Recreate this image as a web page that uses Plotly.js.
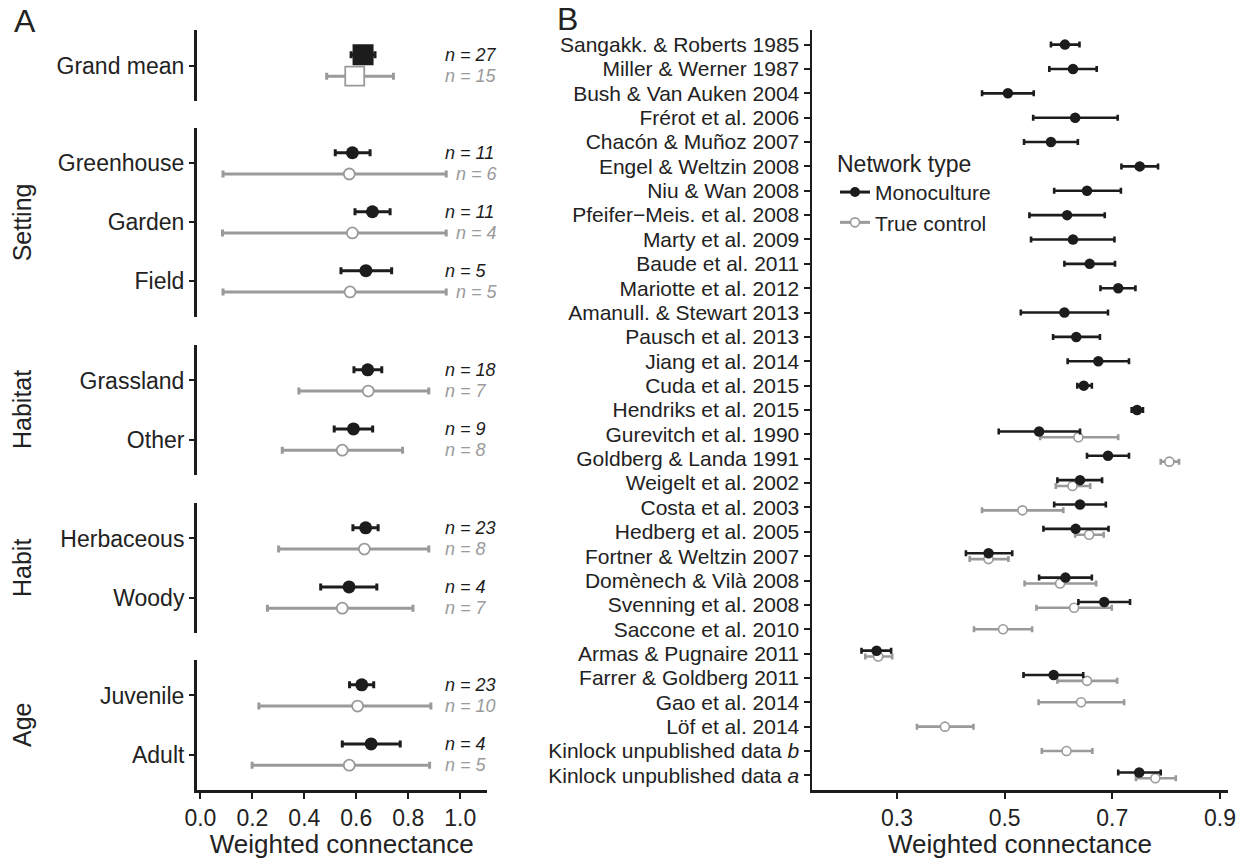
<!DOCTYPE html>
<html><head><meta charset="utf-8">
<script src="https://cdn.plot.ly/plotly-3.0.1.min.js"></script>
<style>html,body{margin:0;padding:0;background:#fff}</style>
</head><body><div id="chart" style="width:1242px;height:859px"></div>
<script>
// ---------- Panel A data ----------
const groupsA = ['Grand mean','Greenhouse','Garden','Field','Grassland','Other','Herbaceous','Woody','Juvenile','Adult'];
const facetOfA = [0,1,1,1,2,2,3,3,4,4];
const facetLabelsA = ['', 'Setting', 'Habitat', 'Habit', 'Age'];
const monoMeanA = [0.626,0.585,0.662,0.637,0.644,0.589,0.636,0.572,0.621,0.657];
const monoLoA   = [0.580,0.519,0.595,0.541,0.591,0.515,0.587,0.463,0.574,0.546];
const monoHiA   = [0.672,0.653,0.730,0.736,0.698,0.663,0.684,0.679,0.667,0.769];
const ctrlMeanA = [0.594,0.573,0.585,0.576,0.646,0.546,0.631,0.546,0.605,0.573];
const ctrlLoA   = [0.486,0.087,0.085,0.087,0.379,0.315,0.301,0.258,0.225,0.199];
const ctrlHiA   = [0.743,0.946,0.946,0.946,0.879,0.778,0.879,0.818,0.887,0.882];
const monoNA = [27,11,11,5,18,9,23,4,23,4];
const ctrlNA = [15,6,4,5,7,8,8,7,10,5];
const xTicksA = [0,0.2,0.4,0.6,0.8,1.0];

// ---------- Panel B data ----------
const studiesB = ['Sangakk. & Roberts 1985','Miller & Werner 1987','Bush & Van Auken 2004','Frérot et al. 2006',
 'Chacón & Muñoz 2007','Engel & Weltzin 2008','Niu & Wan 2008','Pfeifer\u2212Meis. et al. 2008','Marty et al. 2009',
 'Baude et al. 2011','Mariotte et al. 2012','Amanull. & Stewart 2013','Pausch et al. 2013','Jiang et al. 2014',
 'Cuda et al. 2015','Hendriks et al. 2015','Gurevitch et al. 1990','Goldberg & Landa 1991','Weigelt et al. 2002',
 'Costa et al. 2003','Hedberg et al. 2005','Fortner & Weltzin 2007','Domènech & Vilà 2008','Svenning et al. 2008',
 'Saccone et al. 2010','Armas & Pugnaire 2011','Farrer & Goldberg 2011','Gao et al. 2014','Löf et al. 2014',
 'Kinlock unpublished data <i>b</i>','Kinlock unpublished data <i>a</i>'];
const monoMeanB = [0.612,0.627,0.506,0.631,0.586,0.751,0.653,0.616,0.627,0.658,0.711,0.611,0.633,0.674,0.647,0.746,
 0.564,0.692,0.640,0.640,0.632,0.470,0.613,0.685,null,0.262,0.591,null,null,null,0.750];
const monoLoB = [0.586,0.583,0.458,0.553,0.536,0.717,0.592,0.546,0.549,0.611,0.678,0.530,0.590,0.617,0.635,0.736,
 0.489,0.653,0.598,0.592,0.572,0.428,0.564,0.637,null,0.234,0.535,null,null,null,0.711];
const monoHiB = [0.639,0.671,0.554,0.710,0.636,0.785,0.716,0.686,0.704,0.705,0.743,0.692,0.677,0.731,0.662,0.757,
 0.640,0.731,0.681,0.688,0.693,0.514,0.662,0.733,null,0.289,0.646,null,null,null,0.790];
const ctrlMeanB = [null,null,null,null,null,null,null,null,null,null,null,null,null,null,null,null,
 0.637,0.806,0.626,0.533,0.657,0.470,0.603,0.629,0.497,0.265,0.653,0.642,0.389,0.615,0.780];
const ctrlLoB = [null,null,null,null,null,null,null,null,null,null,null,null,null,null,null,null,
 0.566,0.790,0.595,0.458,0.631,0.435,0.537,0.559,0.443,0.241,0.598,0.563,0.337,0.569,0.744];
const ctrlHiB = [null,null,null,null,null,null,null,null,null,null,null,null,null,null,null,null,
 0.711,0.824,0.659,0.609,0.684,0.507,0.670,0.699,0.551,0.291,0.709,0.722,0.442,0.663,0.818];
const xTicksB = [0.3,0.5,0.7,0.9];
const seriesNames = ['Monoculture','True control'];

// ---------- styling ----------
const FONT = 'Liberation Sans, Arial, Helvetica, sans-serif';
const TXT = '#222222';
const BLACK = '#1c1c1c';
const GREY = '#9a9a9a';
const W = 1242, H = 859, TOP = 30, BOT = 790;
const px2x = p => p / W;
const px2y = p => (BOT - p) / (BOT - TOP);
const facetPx = [[30,101],[128,316.7],[345,475],[503,633],[660,790]];

const traces = [];
const annotations = [];
const layout = {
  width: W, height: H,
  margin: {l:0, r:0, t:TOP, b:H-BOT, pad:0},
  paper_bgcolor: '#fff', plot_bgcolor: 'rgba(0,0,0,0)',
  font: {family: FONT, color: TXT},
  showlegend: true,
  legend: {
    x: px2x(835), y: px2y(142), xanchor: 'left', yanchor: 'top',
    bgcolor: 'rgba(0,0,0,0)', font: {size: 21, family: FONT, color: TXT},
    title: {text: 'Network type', font: {size: 23, family: FONT, color: TXT}},
    itemwidth: 30, tracegroupgap: 0
  },
  annotations: annotations
};

// Panel A x-axis
const axLine = {showline:true, linecolor:BLACK, linewidth:2.5, ticks:'outside', ticklen:6, tickwidth:2,
  tickcolor:BLACK, showgrid:false, zeroline:false};
layout.xaxis = Object.assign({}, axLine, {
  domain: [px2x(196.5), px2x(487)], range: [-0.015, 1.103], anchor: 'y5',
  tickvals: xTicksA, ticktext: xTicksA.map(v => v.toFixed(1)),
  tickfont: {size: 23, color: TXT},
  title: {text: 'Weighted connectance', font: {size: 26, color: TXT}, standoff: 6}
});

// Panel A facets
const DA = 0.18;
for (let f = 0; f < facetLabelsA.length; f++) {
  const idx = groupsA.map((g,i)=>i).filter(i => facetOfA[i] === f);
  const k = idx.length;
  const yname = 'yaxis' + (f === 0 ? '' : (f+1));
  const yref = 'y' + (f === 0 ? '' : (f+1));
  layout[yname] = Object.assign({}, axLine, {
    domain: [px2y(facetPx[f][1]), px2y(facetPx[f][0])], anchor: 'x',
    range: [k + 0.6, 0.4], tickvals: idx.map((_,j)=>j+1), ticktext: idx.map(i => groupsA[i]),
    tickfont: {size: 23, color: TXT}, ticklen: 5
  });
  const isGM = f === 0;
  const yM = idx.map((_,j)=>j+1-DA), yC = idx.map((_,j)=>j+1+DA);
  traces.push({
    type:'scatter', mode:'markers', xaxis:'x', yaxis:yref, showlegend:false, hoverinfo:'skip',
    x: idx.map(i=>ctrlMeanA[i]), y: yC,
    error_x: {type:'data', symmetric:false, array: idx.map(i=>ctrlHiA[i]-ctrlMeanA[i]),
      arrayminus: idx.map(i=>ctrlMeanA[i]-ctrlLoA[i]), color: GREY, thickness: 3, width: 3.5},
    marker: {symbol: isGM ? 'square' : 'circle', size: isGM ? 19 : 11, color:'#fff', line:{color:GREY, width:1.8}}
  });
  traces.push({
    type:'scatter', mode:'markers', xaxis:'x', yaxis:yref, showlegend:false, hoverinfo:'skip',
    x: idx.map(i=>monoMeanA[i]), y: yM,
    error_x: {type:'data', symmetric:false, array: idx.map(i=>monoHiA[i]-monoMeanA[i]),
      arrayminus: idx.map(i=>monoMeanA[i]-monoLoA[i]), color: BLACK, thickness: 3, width: 3.5},
    marker: {symbol: isGM ? 'square' : 'circle', size: isGM ? 21 : 13, color:BLACK, line:{width:0}}
  });
  idx.forEach((i,j) => {
    annotations.push({xref:'x', yref:yref, x:0.934, y:yM[j], xanchor:'left', yanchor:'middle', showarrow:false,
      text:'<i>n = ' + monoNA[i] + '</i>', font:{size:18, color:BLACK}});
    annotations.push({xref:'x', yref:yref, x:Math.max(0.934, ctrlHiA[i]+0.031), y:yC[j], xanchor:'left', yanchor:'middle',
      showarrow:false, text:'<i>n = ' + ctrlNA[i] + '</i>', font:{size:18, color:GREY}});
  });
  if (facetLabelsA[f]) {
    annotations.push({xref:'paper', yref:'paper', x:px2x(22), y:px2y((facetPx[f][0]+facetPx[f][1])/2),
      xanchor:'center', yanchor:'middle', showarrow:false, textangle:-90, text:facetLabelsA[f],
      font:{size:25, color:TXT}});
  }
}

// Panel B axes
layout.xaxis2 = Object.assign({}, axLine, {
  domain: [px2x(812), px2x(1228)], range: [0.142, 0.915], anchor: 'y6',
  tickvals: xTicksB, ticktext: xTicksB.map(v => v.toFixed(1)), tickfont: {size: 23, color: TXT},
  title: {text: 'Weighted connectance', font: {size: 26, color: TXT}, standoff: 6}
});
layout.yaxis6 = Object.assign({}, axLine, {
  domain: [0, 1], anchor: 'x2', range: [studiesB.length - 0.4, -0.6],
  tickvals: studiesB.map((_,i)=>i), ticktext: studiesB, tickfont: {size: 21, color: TXT}, ticklen: 6
});

const DB = 0.12;
const both = studiesB.map((_,i) => monoMeanB[i] !== null && ctrlMeanB[i] !== null);
const idxM = studiesB.map((_,i)=>i).filter(i => monoMeanB[i] !== null);
const idxC = studiesB.map((_,i)=>i).filter(i => ctrlMeanB[i] !== null);
traces.push({
  type:'scatter', mode:'markers', xaxis:'x2', yaxis:'y6', showlegend:false, hoverinfo:'skip',
  x: idxC.map(i=>ctrlMeanB[i]), y: idxC.map(i => i + (both[i] ? DB : 0)),
  error_x: {type:'data', symmetric:false, array: idxC.map(i=>ctrlHiB[i]-ctrlMeanB[i]),
    arrayminus: idxC.map(i=>ctrlMeanB[i]-ctrlLoB[i]), color: GREY, thickness: 2.6, width: 3},
  marker: {symbol:'circle', size: 9, color:'#fff', line:{color:GREY, width:1.6}}
});
traces.push({
  type:'scatter', mode:'markers', xaxis:'x2', yaxis:'y6', showlegend:false, hoverinfo:'skip',
  x: idxM.map(i=>monoMeanB[i]), y: idxM.map(i => i - (both[i] ? DB : 0)),
  error_x: {type:'data', symmetric:false, array: idxM.map(i=>monoHiB[i]-monoMeanB[i]),
    arrayminus: idxM.map(i=>monoMeanB[i]-monoLoB[i]), color: BLACK, thickness: 2.6, width: 3},
  marker: {symbol:'circle', size: 10.5, color:BLACK, line:{width:0}}
});
// legend entries
traces.push({type:'scatter', mode:'lines+markers', xaxis:'x2', yaxis:'y6', x:[null], y:[null], name: seriesNames[0],
  line:{color:BLACK, width:3}, marker:{size:10, color:BLACK}});
traces.push({type:'scatter', mode:'lines+markers', xaxis:'x2', yaxis:'y6', x:[null], y:[null], name: seriesNames[1],
  line:{color:GREY, width:3}, marker:{size:9, color:'#fff', line:{color:GREY, width:1.6}}});

// panel letters
annotations.push({xref:'paper', yref:'paper', x:px2x(25), y:px2y(21), xanchor:'center', yanchor:'middle',
  showarrow:false, text:'A', font:{size:32, color:TXT}});
annotations.push({xref:'paper', yref:'paper', x:px2x(567), y:px2y(19), xanchor:'center', yanchor:'middle',
  showarrow:false, text:'B', font:{size:32, color:TXT}});

Plotly.newPlot('chart', traces, layout, {displayModeBar:false, staticPlot:true});
</script></body></html>
